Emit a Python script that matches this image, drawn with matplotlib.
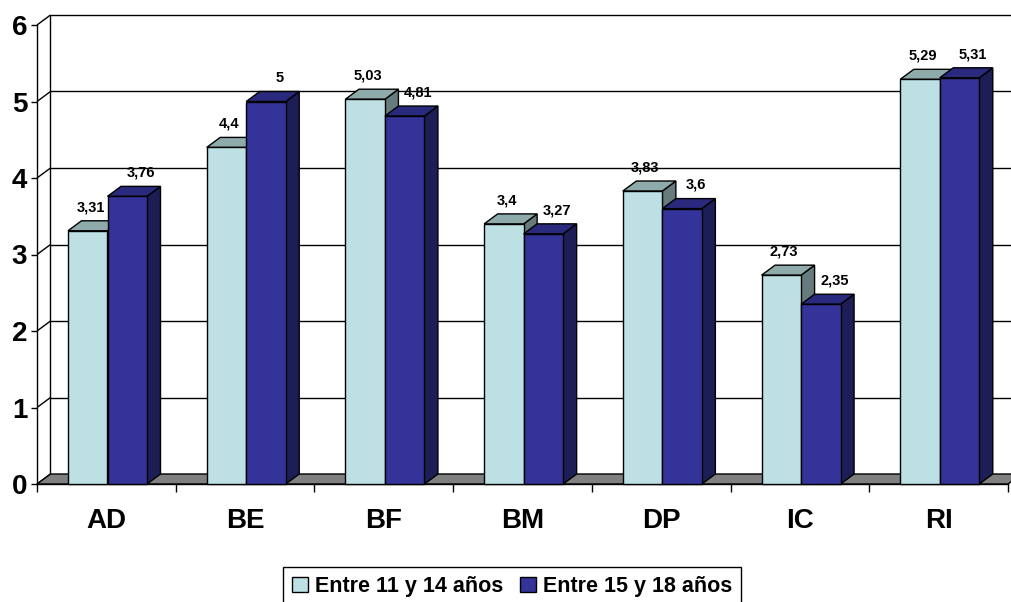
import matplotlib
matplotlib.use("Agg")
import matplotlib.pyplot as plt
from matplotlib.patches import Polygon, Rectangle, Patch

# ---- data -------------------------------------------------------------
categories = ["AD", "BE", "BF", "BM", "DP", "IC", "RI"]
series_names = ["Entre 11 y 14 años", "Entre 15 y 18 años"]
ages_11_14 = [3.31, 4.4, 5.03, 3.4, 3.83, 2.73, 5.29]
ages_15_18 = [3.76, 5.0, 4.81, 3.27, 3.6, 2.35, 5.31]
y_ticks = [0, 1, 2, 3, 4, 5, 6]

# ---- style ------------------------------------------------------------
plt.rcParams['font.family'] = ['Liberation Sans', 'DejaVu Sans']
plt.rcParams['font.weight'] = 'bold'

series_colors = [
    # front, top, side
    ("#BCE0E3", "#8FAAAB", "#657B7C"),
    ("#333399", "#29297D", "#1E1E57"),
]
EDGE = "black"
LW = 1.0

W, H = 1012, 602
fig = plt.figure(figsize=(W / 100, H / 100), dpi=100)

# front plane of the plot box (pixel extents)
left_px, right_px = 37, 1008
base_px, top_px = 484, 25
ax = fig.add_axes([left_px / W, 1 - base_px / H,
                   (right_px - left_px) / W, (base_px - top_px) / H])

n = len(categories)
ymax = y_ticks[-1]
ax.set_xlim(0, n)
ax.set_ylim(0, ymax)

# one screen pixel in data units
px_x = n / (right_px - left_px)
px_y = ymax / (base_px - top_px)
# 3-D depth offset
dx = 13.5 * px_x
dy = 10 * px_y

line_kw = dict(color=EDGE, lw=LW, zorder=1, clip_on=False,
               solid_capstyle='butt')

# back wall: left edge and horizontal gridlines
ax.plot([dx, dx], [dy, ymax + dy], **line_kw)
ax.plot([n + dx, n + dx], [dy, ymax + dy], **line_kw)
for k in y_ticks[1:]:
    ax.plot([dx, n + dx], [k + dy, k + dy], **line_kw)
# side wall: diagonals from the front axis to the back wall
for k in y_ticks:
    ax.plot([0, dx], [k, k + dy], **line_kw)

# floor
ax.add_patch(Polygon([(0, 0), (n, 0), (n + dx, dy), (dx, dy)],
                     closed=True, fc="#808080", ec=EDGE, lw=LW,
                     zorder=2, clip_on=False))

# ---- 3-D bars -----------------------------------------------------------
bar_w = 39.5 * px_x
bar_off = 31 * px_x
label_shift = [0.2 * dx, 1.0 * dx]


def bar3d(x0, w, v, colors, z):
    front, top, side = colors
    x1 = x0 + w
    ax.add_patch(Polygon([(x1, 0), (x1, v), (x1 + dx, v + dy), (x1 + dx, dy)],
                         closed=True, fc=side, ec=EDGE, lw=LW, zorder=z,
                         clip_on=False, joinstyle='miter'))
    ax.add_patch(Polygon([(x0, v), (x1, v), (x1 + dx, v + dy), (x0 + dx, v + dy)],
                         closed=True, fc=top, ec=EDGE, lw=LW, zorder=z,
                         clip_on=False, joinstyle='miter'))
    ax.add_patch(Rectangle((x0, 0), w, v, fc=front, ec=EDGE, lw=LW,
                           zorder=z, clip_on=False, joinstyle='miter'))


for s, values in enumerate([ages_11_14, ages_15_18]):
    for i, v in enumerate(values):
        x0 = i + bar_off + s * bar_w
        bar3d(x0, bar_w, v, series_colors[s], 3 + s)
        ax.text(x0 + bar_w / 2 + label_shift[s], v + 0.31,
                f"{v:g}".replace(".", ","), ha="center", va="center",
                fontsize=10.5, fontweight="bold", zorder=6)

# ---- axes ---------------------------------------------------------------
for side in ("top", "right"):
    ax.spines[side].set_visible(False)
for side in ("left", "bottom"):
    ax.spines[side].set_linewidth(LW)
    ax.spines[side].set_zorder(2.5)
ax.patch.set_visible(False)

ax.set_yticks(y_ticks)
ax.set_yticklabels([str(t) for t in y_ticks])
ax.tick_params(axis="y", length=4, width=LW, direction="out", pad=3,
               labelsize=20)

ax.set_xticks(range(n + 1))
ax.set_xticklabels([])
ax.set_xticks([i + 0.5 for i in range(n)], minor=True)
ax.set_xticklabels(categories, minor=True)
ax.tick_params(axis="x", which="major", length=6, width=LW, direction="out")
ax.tick_params(axis="x", which="minor", length=0, pad=17, labelsize=20)

# ---- legend -------------------------------------------------------------
handles = [Patch(fc=c[0], ec=EDGE, lw=LW) for c in series_colors]
leg = fig.legend(handles, series_names, loc="upper center",
                 bbox_to_anchor=(512 / W, 1 - 567 / H), ncol=2,
                 prop={"weight": "bold", "size": 15.5}, frameon=True,
                 fancybox=False, edgecolor=EDGE, framealpha=1,
                 borderpad=0.4, handlelength=0.75, handleheight=0.7,
                 handletextpad=0.3, columnspacing=0.8, borderaxespad=0)
leg.get_frame().set_linewidth(LW)

fig.savefig("out.png", dpi=100)
